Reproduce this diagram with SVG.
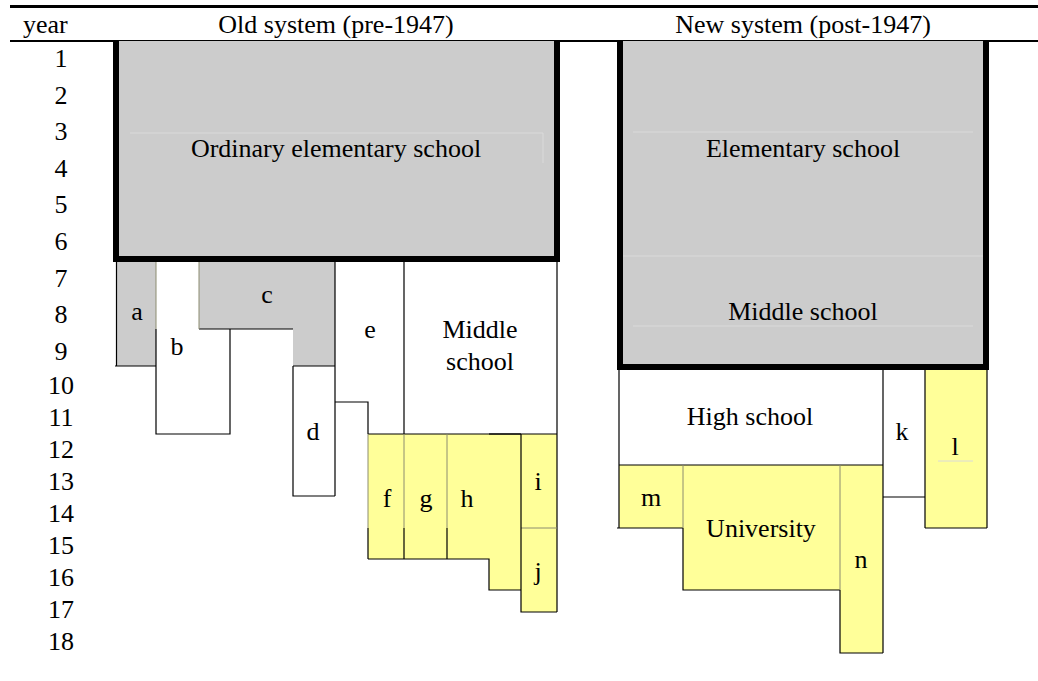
<svg xmlns="http://www.w3.org/2000/svg" width="1038" height="681" viewBox="0 0 1038 681">
<style>
text{font-family:"Liberation Serif","Times New Roman",serif;font-size:26px;fill:#000}
.m{text-anchor:middle}
.gr{fill:#cccccc}
.ye{fill:#ffff99}
.ln{stroke:#000;stroke-width:1.2;fill:none}
.sp{stroke:#8c8c70;stroke-width:1;fill:none}
.th{stroke:#000;stroke-width:6;fill:none}
.fa{stroke:#dadada;stroke-width:1;fill:none}
</style>
<rect width="1038" height="681" fill="#fff"/>
<g id="header">
<rect x="10" y="5" width="1028" height="3" fill="#000"/>
<rect x="10" y="40" width="1028" height="2" fill="#000"/>
<text x="23" y="33">year</text>
<text class="m" x="336" y="33">Old system (pre-1947)</text>
<text class="m" x="803" y="33">New system (post-1947)</text>
</g>
<g id="years">
<text class="m" x="61" y="67">1</text>
<text class="m" x="61" y="104">2</text>
<text class="m" x="61" y="140">3</text>
<text class="m" x="61" y="177">4</text>
<text class="m" x="61" y="213">5</text>
<text class="m" x="61" y="250">6</text>
<text class="m" x="61" y="287">7</text>
<text class="m" x="61" y="323">8</text>
<text class="m" x="61" y="360">9</text>
<text class="m" x="61" y="394">10</text>
<text class="m" x="61" y="426">11</text>
<text class="m" x="61" y="458">12</text>
<text class="m" x="61" y="490">13</text>
<text class="m" x="61" y="522">14</text>
<text class="m" x="61" y="554">15</text>
<text class="m" x="61" y="586">16</text>
<text class="m" x="61" y="618">17</text>
<text class="m" x="61" y="650">18</text>
</g>
<g id="old-elementary">
<rect class="gr" x="116" y="41" width="441" height="218"/>
<path class="fa" d="M130,133H543V163"/>
<path class="th" d="M116,41V259H557V41"/>
<text class="m" x="336" y="157">Ordinary elementary school</text>
</g>
<g id="old-a">
<rect class="gr" x="116.5" y="262" width="39.5" height="104"/>
<text class="m" x="137" y="320">a</text>
</g>
<g id="old-c">
<polygon class="gr" points="199,262 335,262 335,366 293,366 293,329 199,329"/>
<text class="m" x="267" y="303">c</text>
</g>
<g id="old-b">
<text class="m" x="177" y="355">b</text>
</g>
<g id="old-d">
<text class="m" x="313" y="440">d</text>
</g>
<g id="old-e">
<text class="m" x="370" y="338">e</text>
</g>
<g id="old-middle">
<text class="m" x="480" y="338">Middle</text>
<text class="m" x="480" y="370">school</text>
</g>
<g id="old-yellow">
<polygon class="ye" points="368,434 557,434 557,612 521,612 521,590 489,590 489,559 368,559"/>
<text class="m" x="387" y="507">f</text>
<text class="m" x="426" y="507">g</text>
<text class="m" x="467" y="507">h</text>
<text class="m" x="538" y="490">i</text>
<text class="m" x="538" y="580">j</text>
</g>
<g id="new-elementary-middle">
<rect class="gr" x="620" y="41" width="366" height="326"/>
<path class="fa" d="M633,132H973M622,256H983M633,326H973"/>
<path class="th" d="M620,41V367H986V41"/>
<text class="m" x="803" y="157">Elementary school</text>
<text class="m" x="803" y="320">Middle school</text>
</g>
<g id="new-high">
<text class="m" x="750" y="425">High school</text>
</g>
<g id="new-k">
<text class="m" x="902" y="440">k</text>
</g>
<g id="new-l">
<rect class="ye" x="925" y="370" width="62" height="158"/>
<path class="fa" d="M938,461H973"/>
<text class="m" x="955" y="455">l</text>
</g>
<g id="new-m">
<rect class="ye" x="619" y="465" width="64" height="63"/>
<text class="m" x="651" y="506">m</text>
</g>
<g id="new-university">
<rect class="ye" x="683" y="465" width="157" height="125"/>
<text class="m" x="761" y="537">University</text>
</g>
<g id="new-n">
<rect class="ye" x="840" y="465" width="43" height="188"/>
<text class="m" x="861" y="568">n</text>
</g>
<g id="connectors">
<path class="ln" d="M116.5,262V366M115,366H156M156,329V434H230V329M199,329H293M293,366H335M293,366V496H335M335,262V496M335,402H368V434M404,262V434M557,262V612M368,434H557"/>
<path class="sp" d="M156,262V329M199,262V329"/>
<path class="sp" d="M368,434V528M404,434V528M447,434V528M521,528H557"/>
<path class="ln" d="M368,528V559M404,528V559M447,528V559M368,559H489V590H521V612H557M521,434V612"/>
<path class="ln" stroke-width="2" d="M489,434H521"/>
<path class="ln" d="M619,370V528M617,528H683M619,465H883M883,370V653M925,370V528M987,370V528M925,528H987M883,497H925M683,528V590H840M840,590V653H883"/>
<path class="sp" d="M683,465V528M840,465V590"/>
</g>
</svg>
